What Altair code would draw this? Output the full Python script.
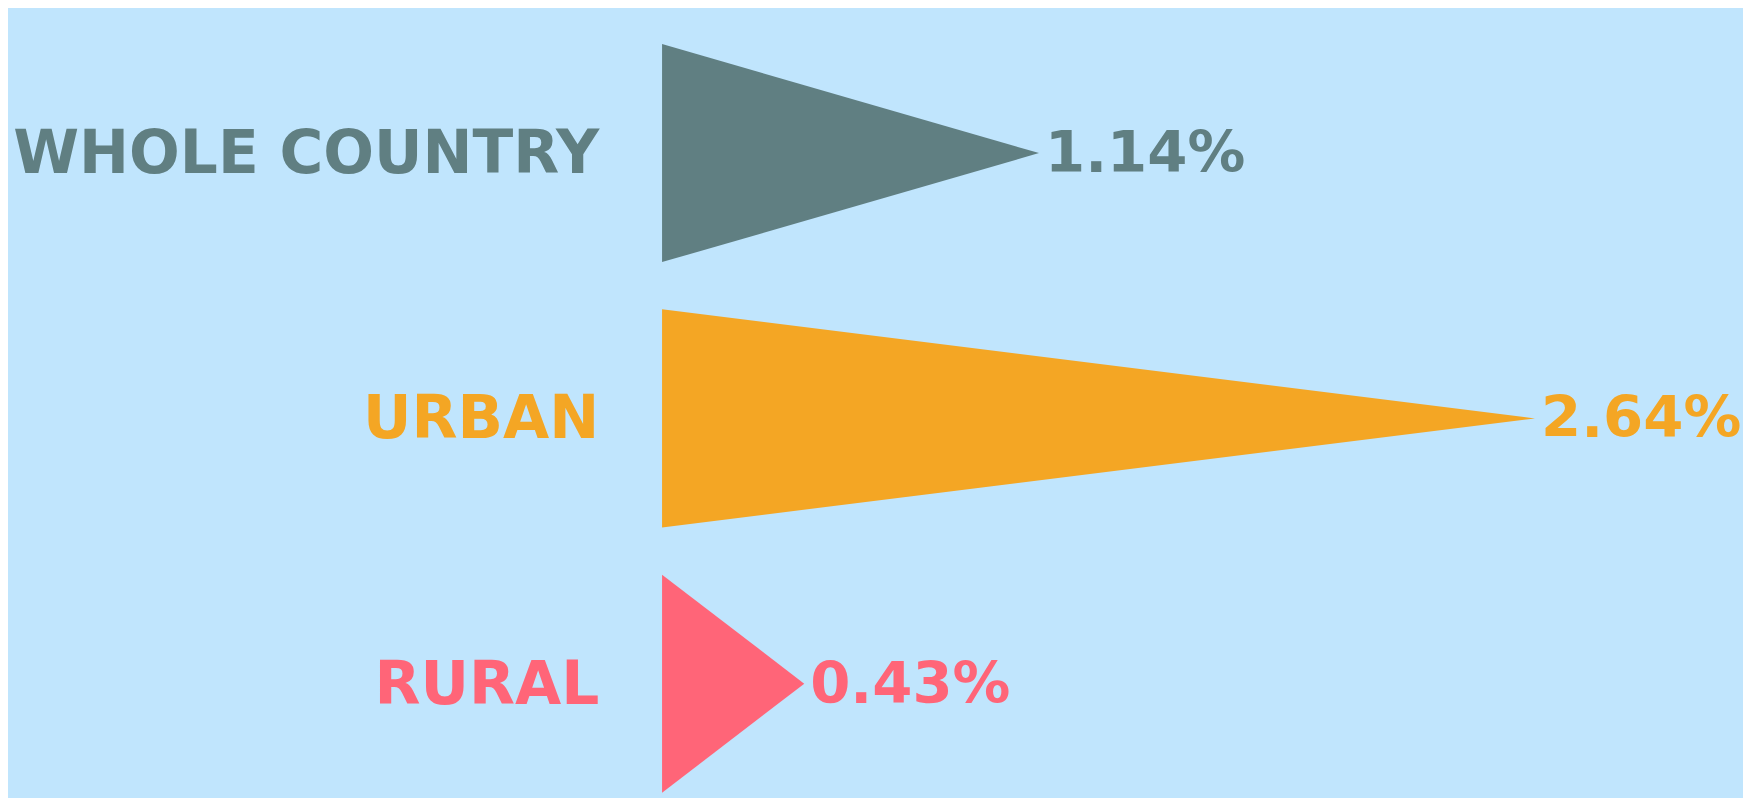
import altair as alt
import pandas as pd

categories = ["WHOLE COUNTRY", "URBAN", "RURAL"]
values = [1.14, 2.64, 0.43]
labels = ["1.14%", "2.64%", "0.43%"]
colors = ["#607F82", "#F4A624", "#FF6578"]

BG = "#C0E5FD"
W, H = 1743, 790
HALF = 0.411  # half height of each triangle in row units

rows = []
for i, (c, v) in enumerate(zip(categories, values)):
    rows.append({"cat": c, "pos": i - HALF, "x": 0.0})
    rows.append({"cat": c, "pos": float(i), "x": v})
    rows.append({"cat": c, "pos": i + HALF, "x": 0.0})
tri = pd.DataFrame(rows)

lab = pd.DataFrame({"cat": categories, "pos": list(range(len(categories))),
                    "value": values, "label": labels})

xscale = alt.Scale(domain=[-1.978, 3.269], nice=False, zero=False)
yscale = alt.Scale(domain=[-0.540, 2.424], nice=False, zero=False, reverse=True)
cscale = alt.Scale(domain=categories, range=colors)

triangles = alt.Chart(tri).mark_area(orient="horizontal").encode(
    y=alt.Y("pos:Q", scale=yscale, axis=None),
    x=alt.X("x:Q", scale=xscale, axis=None, stack=None),
    detail="cat:N",
    color=alt.Color("cat:N", scale=cscale, legend=None),
)

cat_text = alt.Chart(lab).mark_text(
    align="right", baseline="middle", font="DejaVu Sans", fontWeight="bold",
    fontSize=60, dy=2
).encode(
    x=alt.value(594),
    y=alt.Y("pos:Q", scale=yscale, axis=None),
    text="cat:N",
    color=alt.Color("cat:N", scale=cscale, legend=None),
)

val_text = alt.Chart(lab).mark_text(
    align="left", baseline="middle", font="DejaVu Sans", fontWeight="bold",
    fontSize=58, dx=6, dy=2
).encode(
    x=alt.X("value:Q", scale=xscale, axis=None),
    y=alt.Y("pos:Q", scale=yscale, axis=None),
    text="label:N",
    color=alt.Color("cat:N", scale=cscale, legend=None),
)

chart = alt.layer(triangles, cat_text, val_text).properties(
    width=W, height=H, padding=0, autosize=alt.AutoSizeParams(type="none"),
    background=BG,
).configure_view(stroke=None, fill=BG)

chart.save("out.html", embed_options={"renderer": "svg", "actions": False})
